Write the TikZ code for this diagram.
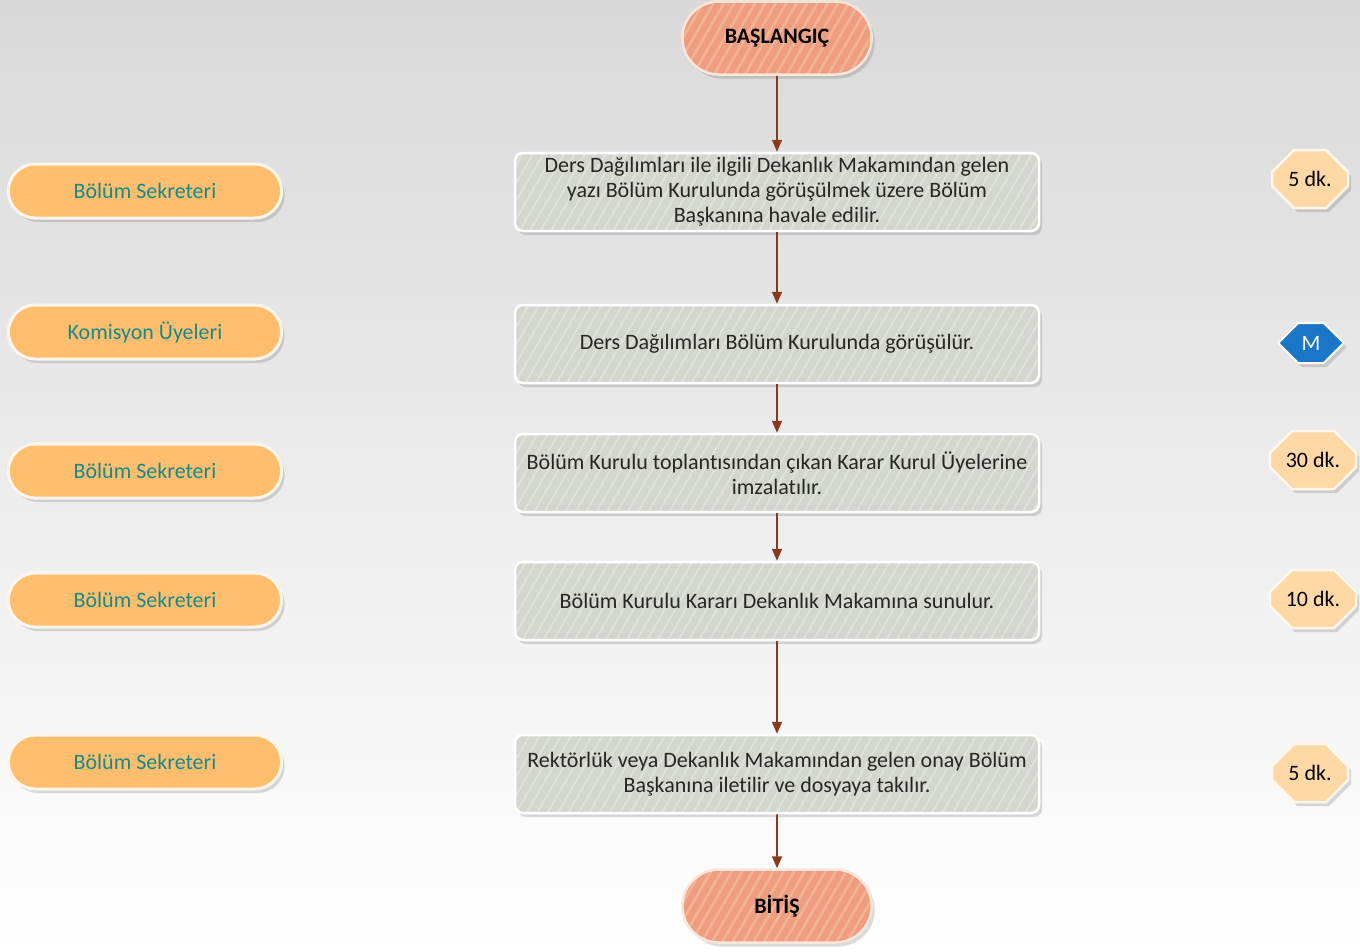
\documentclass[tikz,border=0pt]{standalone}
\usepackage{fontspec}
\setmainfont{Carlito}[Ligatures={NoCommon}]
\usetikzlibrary{arrows.meta,shapes.misc,shapes.symbols,shadows,patterns.meta}
\definecolor{termfill}{HTML}{EE9E7F}
\definecolor{termstripe}{HTML}{F3B397}
\definecolor{termline}{HTML}{FBE6DC}
\definecolor{taskfill}{HTML}{D3D6CE}
\definecolor{taskstripe}{HTML}{DFE1DA}
\definecolor{rolefill}{HTML}{FFBE6E}
\definecolor{roletext}{HTML}{178A8A}
\definecolor{timefill}{HTML}{FFD8A6}
\definecolor{mfill}{HTML}{1976C8}
\definecolor{flow}{HTML}{8A3A1C}
\tikzset{
  shade/.style={drop shadow={shadow xshift=3pt,shadow yshift=-4pt,opacity=0.2,fill=black!70}},
  terminal/.style={shade,rounded rectangle,minimum width=196pt,minimum height=73pt,
    preaction={fill=termfill},pattern={Lines[angle=60,distance=9pt,line width=2.5pt]},
    pattern color=termstripe,draw=termline,line width=2.5pt,font=\fontsize{22}{26}\selectfont\bfseries},
  task/.style={shade,rounded corners=8pt,minimum width=524pt,minimum height=78pt,align=center,
    preaction={fill=taskfill},pattern={Lines[angle=60,distance=9pt,line width=2pt]},
    pattern color=taskstripe,draw=white,line width=2.5pt,text=black!85},
  role/.style={shade,rounded rectangle,minimum width=280pt,minimum height=54pt,fill=rolefill,
    draw=white!92!orange,line width=3pt,text=roletext},
  time/.style={shade,chamfered rectangle,chamfered rectangle xsep=10pt,chamfered rectangle ysep=12pt,
    minimum width=76pt,minimum height=58pt,inner xsep=6pt,fill=timefill,draw=white!93!orange,line width=2.5pt},
  meeting/.style={shade,signal,signal to=west and east,minimum width=56pt,minimum height=40pt,
    fill=mfill,draw=white,line width=2pt,text=white}
}
\begin{document}
\begin{tikzpicture}[x=1pt,y=-1pt,>={Triangle[length=12pt,width=10pt]},line join=round,
  font=\fontsize{22}{25}\selectfont]
\useasboundingbox (0,0) rectangle (1360,951);
\clip (0,0) rectangle (1360,951);
\shade[top color=black!15,bottom color=white] (0,0) rectangle (1360,951);
\node[terminal] (start) at (777,38) {BAŞLANGIÇ};
\node[task] (t1) at (777,192) {Ders Dağılımları ile ilgili Dekanlık Makamından gelen\\yazı Bölüm Kurulunda görüşülmek üzere Bölüm\\Başkanına havale edilir.};
\node[task] (t2) at (777,344) {Ders Dağılımları Bölüm Kurulunda görüşülür.};
\node[task] (t3) at (777,473) {Bölüm Kurulu toplantısından çıkan Karar Kurul Üyelerine\\imzalatılır.};
\node[task] (t4) at (777,601) {Bölüm Kurulu Kararı Dekanlık Makamına sunulur.};
\node[task] (t5) at (777,774) {Rektörlük veya Dekanlık Makamından gelen onay Bölüm\\Başkanına iletilir ve dosyaya takılır.};
\node[terminal] (stop) at (777,906) {BİTİŞ};
\foreach \n/\y/\txt in {r1/191/Bölüm Sekreteri,r2/332/Komisyon Üyeleri,r3/471/Bölüm Sekreteri,r4/600/Bölüm Sekreteri,r5/762/Bölüm Sekreteri}
  \node[role] (\n) at (145,\y) {\txt};
\foreach \n/\x/\y/\txt in {d1/1310/179/5 dk.,d3/1313/460/30 dk.,d4/1313/599/10 dk.,d5/1310/773/5 dk.}
  \node[time] (\n) at (\x,\y) {\txt};
\node[meeting] (d2) at (1311,343) {M};
\foreach \a/\b in {start/t1,t1/t2,t2/t3,t3/t4,t4/t5,t5/stop}
  \draw[->,flow,line width=1.6pt] (\a) -- (\b);
\end{tikzpicture}
\end{document}
